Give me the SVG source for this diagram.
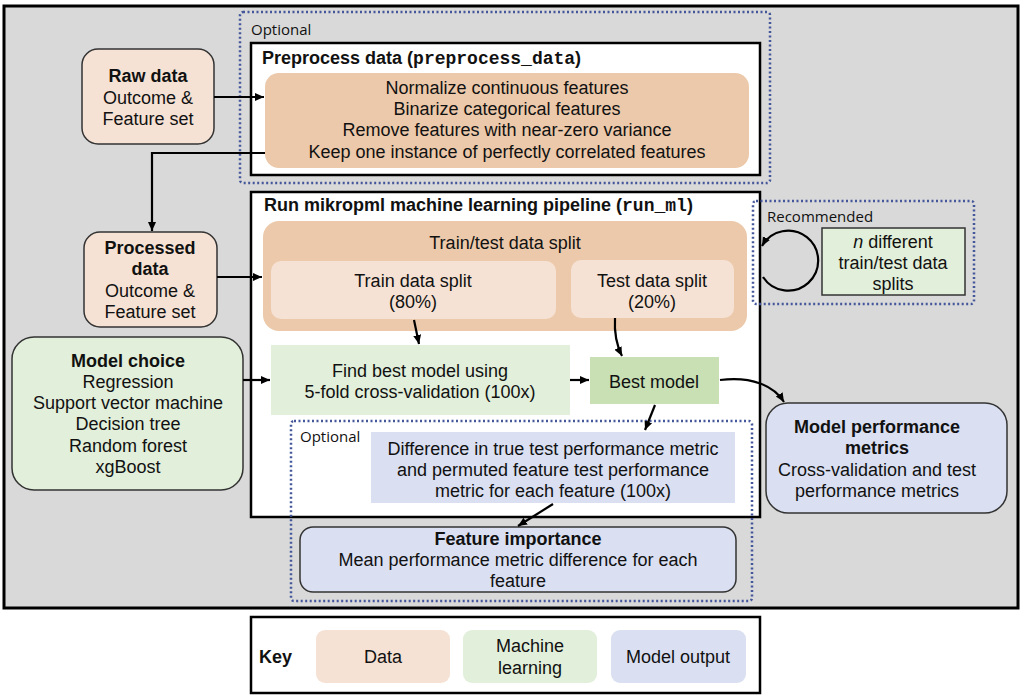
<svg xmlns="http://www.w3.org/2000/svg" width="1024" height="700" viewBox="0 0 1024 700">
<style>
  text { font-family: "Liberation Sans", Arial, sans-serif; font-size: 18px; fill: #111; }
  .c { text-anchor: middle; }
  .b { font-weight: bold; }
  .mono { font-family: "Liberation Mono", "Courier New", monospace; font-weight: bold; }
  .opt { font-family: "Open Sans", "Liberation Sans", sans-serif; font-size: 15px; }
  .dot { fill: none; stroke: #44579a; stroke-width: 2.5; stroke-dasharray: 2 2.5; }
  .frame { fill: #fff; stroke: #000; stroke-width: 2.5; }
  .data { fill: #f5e2d4; stroke: #333; stroke-width: 1.5; }
  .ml { fill: #e2efda; stroke: #333; stroke-width: 1.5; }
  .out { fill: #dae0f1; stroke: #333; stroke-width: 1.5; }
  .conn { fill: none; stroke: #000; stroke-width: 2.2; }
</style>
<defs>
  <marker id="ah" markerUnits="userSpaceOnUse" markerWidth="10" markerHeight="10" refX="9" refY="5" orient="auto">
    <path d="M0,1 L9,5 L0,9 z" fill="#000"/>
  </marker>
</defs>

<rect x="4" y="6" width="1014" height="602" fill="#d9d9d9" stroke="#000" stroke-width="3"/>

<g id="optional-preprocess">
  <rect class="dot" x="240" y="12" width="530" height="171" rx="3"/>
  <text class="opt" x="251" y="35">Optional</text>
</g>

<g id="preprocess">
  <rect class="frame" x="251" y="43" width="509" height="132"/>
  <text class="b" x="262" y="64">Preprocess data (<tspan class="mono">preprocess_data</tspan>)</text>
  <rect x="265" y="73" width="484" height="95" rx="14" fill="#ecc9aa"/>
  <text class="c" x="507" y="94">Normalize continuous features</text>
  <text class="c" x="507" y="115">Binarize categorical features</text>
  <text class="c" x="507" y="136">Remove features with near-zero variance</text>
  <text class="c" x="507" y="158">Keep one instance of perfectly correlated features</text>
</g>

<g id="raw-data">
  <rect class="data" x="82" y="49" width="132" height="95" rx="16"/>
  <text class="c b" x="148" y="82">Raw data</text>
  <text class="c" x="148" y="104">Outcome &amp;</text>
  <text class="c" x="148" y="125">Feature set</text>
</g>

<g id="processed-data">
  <rect class="data" x="84" y="232" width="133" height="95" rx="16"/>
  <text class="c b" x="150" y="254">Processed</text>
  <text class="c b" x="150" y="275">data</text>
  <text class="c" x="150" y="297">Outcome &amp;</text>
  <text class="c" x="150" y="318">Feature set</text>
</g>

<g id="model-choice">
  <rect class="ml" x="12" y="337" width="231" height="153" rx="22"/>
  <text class="c b" x="128" y="367">Model choice</text>
  <text class="c" x="128" y="388">Regression</text>
  <text class="c" x="128" y="409">Support vector machine</text>
  <text class="c" x="128" y="430">Decision tree</text>
  <text class="c" x="128" y="452">Random forest</text>
  <text class="c" x="128" y="473">xgBoost</text>
</g>

<g id="run-ml">
  <rect class="frame" x="251" y="192" width="509" height="325"/>
  <text class="b" x="264" y="211">Run mikropml machine learning pipeline (<tspan class="mono">run_ml</tspan>)</text>
</g>

<g id="train-test-split">
  <rect x="263" y="221" width="484" height="110" rx="16" fill="#ecc9aa"/>
  <text class="c" x="505" y="249">Train/test data split</text>
</g>

<g id="train-split">
  <rect x="271" y="261" width="285" height="58" rx="10" fill="#f5e2d4"/>
  <text class="c" x="413" y="287">Train data split</text>
  <text class="c" x="413" y="308">(80%)</text>
</g>

<g id="test-split">
  <rect x="571" y="260" width="163" height="58" rx="10" fill="#f5e2d4"/>
  <text class="c" x="652" y="287">Test data split</text>
  <text class="c" x="652" y="308">(20%)</text>
</g>

<g id="find-best-model">
  <rect x="271" y="345" width="299" height="70" fill="#e2efda"/>
  <text class="c" x="420" y="377">Find best model using</text>
  <text class="c" x="420" y="398">5-fold cross-validation (100x)</text>
</g>

<g id="best-model">
  <rect x="590" y="357" width="129" height="47" fill="#c8e0b4"/>
  <text class="c" x="654" y="388">Best model</text>
</g>

<g id="recommended">
  <rect class="dot" x="753" y="201" width="221" height="103" rx="3"/>
  <text class="opt" x="767" y="222">Recommended</text>
</g>

<g id="n-splits">
  <rect x="822" y="228" width="143" height="67" fill="#e2efda" stroke="#333" stroke-width="1.5"/>
  <text class="c" x="893" y="248"><tspan font-style="italic">n</tspan> different</text>
  <text class="c" x="893" y="269">train/test data</text>
  <text class="c" x="893" y="290">splits</text>
</g>

<g id="optional-importance">
  <rect class="dot" x="291" y="421" width="461" height="180" rx="3"/>
  <text class="opt" x="300" y="442">Optional</text>
</g>

<g id="permutation-difference">
  <rect x="371" y="432" width="364" height="71" fill="#dae0f1"/>
  <text class="c" x="553" y="455">Difference in true test performance metric</text>
  <text class="c" x="553" y="476">and permuted feature test performance</text>
  <text class="c" x="553" y="497">metric for each feature (100x)</text>
</g>

<g id="feature-importance">
  <rect class="out" x="300" y="527" width="436" height="65" rx="13"/>
  <text class="c b" x="518" y="545">Feature importance</text>
  <text class="c" x="518" y="566">Mean performance metric difference for each</text>
  <text class="c" x="518" y="587">feature</text>
</g>

<g id="model-performance">
  <rect class="out" x="766" y="403" width="241" height="110" rx="22"/>
  <text class="c b" x="877" y="433">Model performance</text>
  <text class="c b" x="877" y="454">metrics</text>
  <text class="c" x="877" y="476">Cross-validation and test</text>
  <text class="c" x="877" y="497">performance metrics</text>
</g>

<g id="connectors">
  <line class="conn" x1="214" y1="97" x2="264" y2="97" marker-end="url(#ah)"/>
  <polyline class="conn" points="265,153 152,153 152,231" marker-end="url(#ah)"/>
  <line class="conn" x1="217" y1="277" x2="262" y2="277" marker-end="url(#ah)"/>
  <line class="conn" x1="243" y1="380" x2="270" y2="380" marker-end="url(#ah)"/>
  <line class="conn" x1="414" y1="320" x2="419" y2="344" marker-end="url(#ah)"/>
  <path class="conn" d="M615,318 C614,335 617,346 622,356" marker-end="url(#ah)"/>
  <line class="conn" x1="570" y1="380" x2="589" y2="380" marker-end="url(#ah)"/>
  <path class="conn" d="M720,380 C752,376 774,386 784,402" marker-end="url(#ah)"/>
  <line class="conn" x1="655" y1="405" x2="645" y2="430" marker-end="url(#ah)"/>
  <line class="conn" x1="553" y1="504" x2="518" y2="526" marker-end="url(#ah)"/>
  <path class="conn" d="M763,277 A30,30 0 1 0 762,246" marker-end="url(#ah)"/>
</g>

<g id="key">
  <rect x="251" y="617" width="509" height="76" fill="#fff" stroke="#000" stroke-width="2.5"/>
  <text class="b" x="259" y="663">Key</text>
  <rect x="316" y="630" width="134" height="53" rx="9" fill="#f5e2d4"/>
  <text class="c" x="383" y="663">Data</text>
  <rect x="463" y="630" width="134" height="53" rx="9" fill="#e2efda"/>
  <text class="c" x="530" y="652">Machine</text>
  <text class="c" x="530" y="674">learning</text>
  <rect x="611" y="630" width="135" height="53" rx="9" fill="#dae0f1"/>
  <text class="c" x="678" y="663">Model output</text>
</g>
</svg>
